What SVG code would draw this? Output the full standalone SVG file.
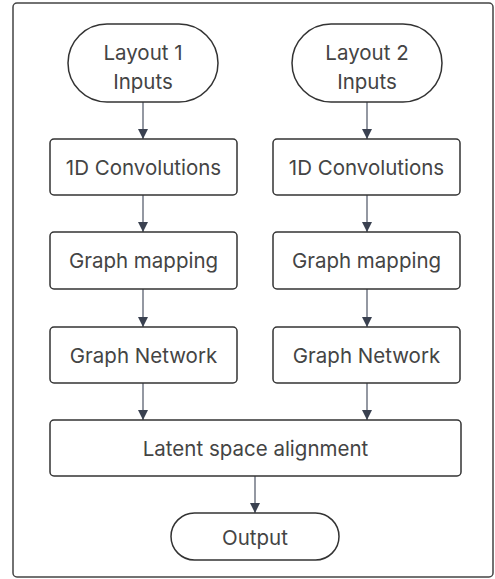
<svg xmlns="http://www.w3.org/2000/svg" width="495" height="579" viewBox="0 0 495 579">
<defs>
<style>
.n{fill:#fff;stroke:#333;stroke-width:1.5}
.t{font-family:Inter,"Liberation Sans",sans-serif;font-size:20.5px;fill:#444;text-anchor:middle}
.c{stroke:#5a6170;stroke-width:1.3;fill:none;marker-end:url(#ah)}
</style>
<marker id="ah" viewBox="0 0 10 10" refX="10" refY="5" markerWidth="10" markerHeight="10" markerUnits="userSpaceOnUse" orient="auto">
<path d="M0,0 L10,5 L0,10 z" fill="#3a4150"/>
</marker>
</defs>
<rect x="13" y="3" width="480" height="574" rx="4" fill="#fff" stroke="#444" stroke-width="1.5"/>
<g id="connectors">
<path class="c" d="M143,102 V139"/>
<path class="c" d="M367,102 V139"/>
<path class="c" d="M143,195 V232"/>
<path class="c" d="M367,195 V232"/>
<path class="c" d="M143,289 V327"/>
<path class="c" d="M367,289 V327"/>
<path class="c" d="M143,383 V420"/>
<path class="c" d="M367,383 V420"/>
<path class="c" d="M255,476 V513"/>
</g>
<g id="in1"><rect class="n" x="68" y="24" width="150" height="78" rx="39"/><text class="t" x="143" y="60">Layout 1</text><text class="t" x="143" y="89">Inputs</text></g>
<g id="in2"><rect class="n" x="292" y="24" width="150" height="78" rx="39"/><text class="t" x="367" y="60">Layout 2</text><text class="t" x="367" y="89">Inputs</text></g>
<g id="conv1"><rect class="n" x="50" y="139" width="187" height="56" rx="4"/><text class="t" x="143.5" y="175">1D Convolutions</text></g>
<g id="conv2"><rect class="n" x="273" y="139" width="187" height="56" rx="4"/><text class="t" x="366.5" y="175">1D Convolutions</text></g>
<g id="map1"><rect class="n" x="50" y="232" width="187" height="57" rx="4"/><text class="t" x="143.5" y="268">Graph mapping</text></g>
<g id="map2"><rect class="n" x="273" y="232" width="187" height="57" rx="4"/><text class="t" x="366.5" y="268">Graph mapping</text></g>
<g id="net1"><rect class="n" x="50" y="327" width="187" height="56" rx="4"/><text class="t" x="143.5" y="363">Graph Network</text></g>
<g id="net2"><rect class="n" x="273" y="327" width="187" height="56" rx="4"/><text class="t" x="366.5" y="363">Graph Network</text></g>
<g id="latent"><rect class="n" x="50" y="420" width="411" height="56" rx="4"/><text class="t" x="255.5" y="456">Latent space alignment</text></g>
<g id="output"><rect class="n" x="171" y="513" width="168" height="47" rx="23.5"/><text class="t" x="255" y="545">Output</text></g>
</svg>
